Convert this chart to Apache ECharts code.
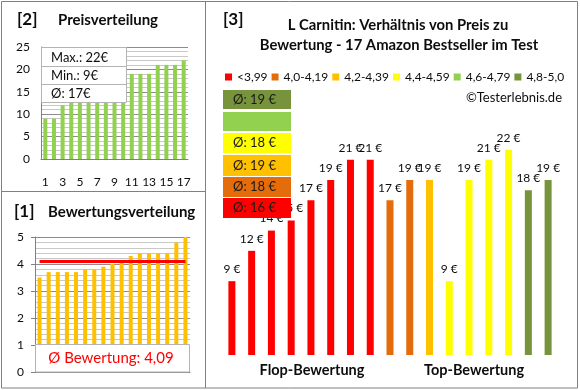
<!DOCTYPE html>
<html><head><meta charset="utf-8">
<script src="https://cdn.jsdelivr.net/npm/echarts@6/dist/echarts.min.js"></script>
<style>html,body{margin:0;padding:0;background:#fff}#c{width:580px;height:390px}</style>
</head><body><div id="c"></div>
<script>
// ---- data ----
const productPrices = [9,12,14,15,17,19,21,21,17,19,19,9,19,21,22,18,19];
const productGroups = [0,0,0,0,0,0,0,0,1,1,2,3,3,3,3,5,5];
const groupNames = ['<3,99','4,0-4,19','4,2-4,39','4,4-4,59','4,6-4,79','4,8-5,0'];
const groupColors = ['#FF0000','#E46C0A','#FFC000','#FFFF00','#92D050','#77933C'];
const ratingsSorted = [3.5,3.7,3.7,3.7,3.7,3.8,3.8,3.9,4.0,4.1,4.3,4.4,4.4,4.4,4.4,4.8,5.0];
const rankLabels = ['1','2','3','4','5','6','7','8','9','10','11','12','13','14','15','16','17'];
const priceTicks = [0,5,10,15,20,25];
const ratingTicks = [0,1,2,3,4,5];

// ---- derived ----
const pricesSorted = productPrices.slice().sort((a,b)=>a-b);
const priceMax = Math.max(...productPrices);
const priceMin = Math.min(...productPrices);
const priceAvg = Math.round(productPrices.reduce((a,b)=>a+b,0)/productPrices.length);
const ratingAvg = ratingsSorted.reduce((a,b)=>a+b,0)/ratingsSorted.length;
const ratingAvgText = ratingAvg.toFixed(2).replace('.',',');
const groupAvg = groupNames.map((n,g)=>{
  const v = productPrices.filter((p,i)=>productGroups[i]===g);
  return v.length ? Math.round(v.reduce((a,b)=>a+b,0)/v.length) : null;
});

const FF = 'Lato';
const TXT = '#0d0d0d';
const chart = echarts.init(document.getElementById('c'), null, {renderer:'canvas'});

const groupSeries = groupNames.map((n,g)=>({
  name:n, type:'bar', xAxisIndex:2, yAxisIndex:2,
  barWidth:7, barGap:'-100%',
  itemStyle:{color:groupColors[g]},
  label:{show:true, position:'top', distance:6, formatter:'{c} €', fontSize:12, color:TXT, fontFamily:FF},
  data: productPrices.map((p,i)=>productGroups[i]===g ? p : '-')
}));

// boxes for group averages (top to bottom: reversed groups)
const boxY = [90,112,133,155,177,198];
const boxH = [19,19,20,21,20,20];
const boxGraphics = [];
for (let k=0;k<6;k++){
  const g = 5-k;
  boxGraphics.push({type:'rect', z:100, shape:{x:223,y:boxY[k],width:68,height:boxH[k]}, style:{fill:groupColors[g]}});
  if (groupAvg[g]!==null){
    boxGraphics.push({type:'text', z:101, x:233, y:boxY[k]+boxH[k]/2, style:{text:'Ø: '+groupAvg[g]+' €', fontSize:13, fontFamily:FF, fill:'#1a1a1a', textVerticalAlign:'middle'}});
  }
}

const lineCol = '#808080';
const option = {
  animation:false,
  textStyle:{fontFamily:FF},
  legend:{left:225, top:71, padding:0, itemWidth:7, itemHeight:7, itemGap:4,
    icon:'rect', data:groupNames, textStyle:{fontSize:12, fontFamily:FF, color:TXT}},
  grid:[
    {left:41, top:47, width:147, height:112},
    {left:35, top:237, width:155, height:135},
    {left:222, top:89, width:336, height:266}
  ],
  xAxis:[
    {type:'category', gridIndex:0, data:rankLabels,
      axisLine:{lineStyle:{color:lineCol}}, axisTick:{show:false},
      axisLabel:{interval:1, margin:17, fontSize:12, color:TXT, fontFamily:FF}},
    {type:'category', gridIndex:1, data:rankLabels,
      axisLine:{lineStyle:{color:lineCol}}, axisTick:{show:false}, axisLabel:{show:false}},
    {type:'category', gridIndex:2, data:rankLabels, show:false}
  ],
  yAxis:[
    {type:'value', gridIndex:0, min:priceTicks[0], max:priceTicks[priceTicks.length-1], interval:5,
      axisLine:{show:true, lineStyle:{color:lineCol}}, axisTick:{show:false},
      axisLabel:{margin:11, fontSize:12, color:TXT, fontFamily:FF},
      splitLine:{lineStyle:{color:'#8c8c8c'}},
      minorTick:{show:false, splitNumber:5},
      minorSplitLine:{show:true, lineStyle:{color:'#c8c8c8'}}},
    {type:'value', gridIndex:1, min:ratingTicks[0], max:ratingTicks[ratingTicks.length-1], interval:1,
      axisLine:{show:true, lineStyle:{color:lineCol}}, axisTick:{show:true, length:4, lineStyle:{color:lineCol}},
      axisLabel:{margin:11, fontSize:12, color:TXT, fontFamily:FF},
      splitLine:{lineStyle:{color:'#8c8c8c'}},
      minorTick:{show:false, splitNumber:5},
      minorSplitLine:{show:true, lineStyle:{color:'#c8c8c8'}}},
    {type:'value', gridIndex:2, min:1.7, max:28, show:false, splitLine:{show:false}}
  ],
  series:[
    {type:'bar', xAxisIndex:0, yAxisIndex:0, barWidth:4, itemStyle:{color:'#92D050'}, data:pricesSorted},
    {type:'bar', xAxisIndex:1, yAxisIndex:1, barWidth:4, itemStyle:{color:'#FFC000'}, data:ratingsSorted},
    {type:'line', xAxisIndex:1, yAxisIndex:1, symbol:'none', z:5, lineStyle:{color:'#FF0000', width:3},
      data:ratingsSorted.map(()=>ratingAvg)},
    ...groupSeries
  ],
  graphic:[
    {type:'rect', z:90, shape:{x:1.5,y:1.5,width:576,height:386.5}, style:{fill:'none', stroke:lineCol, lineWidth:1}},
    {type:'line', z:90, shape:{x1:205.5,y1:1.5,x2:205.5,y2:388}, style:{stroke:lineCol, lineWidth:1}},
    {type:'line', z:90, shape:{x1:1.5,y1:191.5,x2:205.5,y2:191.5}, style:{stroke:lineCol, lineWidth:1}},
    // panel 2 titles
    {type:'text', z:100, x:17, y:20, style:{text:'[2]', fontSize:17, fontWeight:'bold', fontFamily:FF, fill:TXT, textVerticalAlign:'middle'}},
    {type:'text', z:100, x:58, y:20, style:{text:'Preisverteilung', fontSize:15, fontWeight:'bold', fontFamily:FF, fill:TXT, textVerticalAlign:'middle'}},
    // price box
    {type:'rect', z:100, shape:{x:41.5,y:47.5,width:85,height:55}, style:{fill:'#fff', stroke:'#b4b4b4', lineWidth:1}},
    {type:'line', z:100, shape:{x1:41.5,y1:66.5,x2:126.5,y2:66.5}, style:{stroke:'#b4b4b4', lineWidth:1}},
    {type:'line', z:100, shape:{x1:41.5,y1:84.5,x2:126.5,y2:84.5}, style:{stroke:'#b4b4b4', lineWidth:1}},
    {type:'text', z:101, x:51, y:57.5, style:{text:'Max.: '+priceMax+'€', fontSize:13, fontFamily:FF, fill:TXT, textVerticalAlign:'middle'}},
    {type:'text', z:101, x:51, y:76, style:{text:'Min.: '+priceMin+'€', fontSize:13, fontFamily:FF, fill:TXT, textVerticalAlign:'middle'}},
    {type:'text', z:101, x:51, y:94, style:{text:'Ø: '+priceAvg+'€', fontSize:13, fontFamily:FF, fill:TXT, textVerticalAlign:'middle'}},
    // panel 1 titles
    {type:'text', z:100, x:14, y:212, style:{text:'[1]', fontSize:17, fontWeight:'bold', fontFamily:FF, fill:TXT, textVerticalAlign:'middle'}},
    {type:'text', z:100, x:48, y:212, style:{text:'Bewertungsverteilung', fontSize:15, fontWeight:'bold', fontFamily:FF, fill:TXT, textVerticalAlign:'middle'}},
    // rating box
    {type:'rect', z:100, shape:{x:35.5,y:344.5,width:154,height:27.5}, style:{fill:'#fff', stroke:'#b4b4b4', lineWidth:1}},
    {type:'text', z:101, x:111, y:358, style:{text:'Ø Bewertung: '+ratingAvgText, fontSize:15, fontFamily:FF, fill:'#FF0000', textAlign:'center', textVerticalAlign:'middle'}},
    // panel 3 titles
    {type:'text', z:100, x:223, y:20, style:{text:'[3]', fontSize:17, fontWeight:'bold', fontFamily:FF, fill:TXT, textVerticalAlign:'middle'}},
    {type:'text', z:100, x:398, y:25, style:{text:'L Carnitin: Verhältnis von Preis zu', fontSize:14.8, fontWeight:'bold', fontFamily:FF, fill:TXT, textAlign:'center', textVerticalAlign:'middle'}},
    {type:'text', z:100, x:399, y:45, style:{text:'Bewertung - 17 Amazon Bestseller im Test', fontSize:14.8, fontWeight:'bold', fontFamily:FF, fill:TXT, textAlign:'center', textVerticalAlign:'middle'}},
    {type:'text', z:100, x:562, y:98, style:{text:'©Testerlebnis.de', fontSize:13, fontFamily:FF, fill:TXT, textAlign:'right', textVerticalAlign:'middle'}},
    {type:'text', z:100, x:312, y:370, style:{text:'Flop-Bewertung', fontSize:14.5, fontWeight:'bold', fontFamily:FF, fill:TXT, textAlign:'center', textVerticalAlign:'middle'}},
    {type:'text', z:100, x:474, y:370, style:{text:'Top-Bewertung', fontSize:14.5, fontWeight:'bold', fontFamily:FF, fill:TXT, textAlign:'center', textVerticalAlign:'middle'}},
    ...boxGraphics
  ]
};
chart.setOption(option);
</script></body></html>
